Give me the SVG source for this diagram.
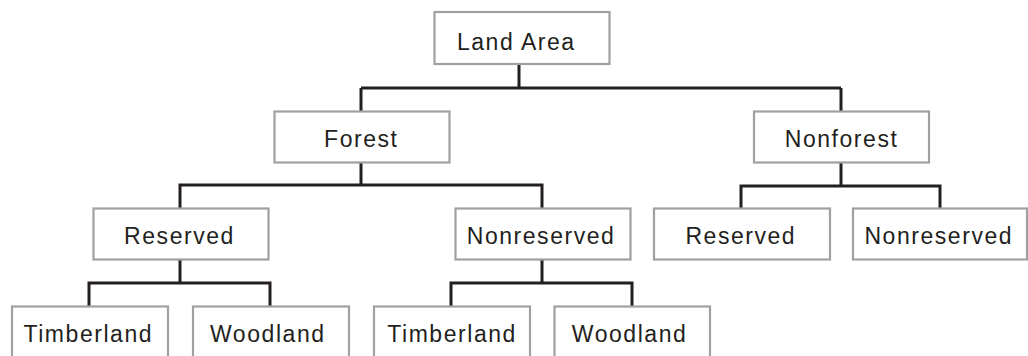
<svg xmlns="http://www.w3.org/2000/svg" width="1028" height="356" viewBox="0 0 1028 356">
<style>
.box{fill:#ffffff;stroke:#a0a0a3;stroke-width:2.2}
.lbl{font-family:"Liberation Sans",Arial,sans-serif;font-size:23px;letter-spacing:1.55px;fill:#231f20;text-anchor:middle}
.conn{fill:none;stroke:#231f20;stroke-width:3;stroke-linejoin:miter;stroke-linecap:butt}
</style>
<rect width="1028" height="356" fill="#ffffff"/>
<g id="connectors" class="conn">
<path d="M519,64 V88 M361,88 H841 M361,88 V111 M841,88 V111"/>
<path d="M361,163 V185 M180,208 V185 H542 V208"/>
<path d="M841,163 V186 M741,208 V186 H940 V208"/>
<path d="M180,260 V283 M89,306 V283 H270 V306"/>
<path d="M542,260 V283 M451,306 V283 H632 V306"/>
</g>
<g id="land-area"><rect class="box" x="434.5" y="12" width="175" height="52"/><text class="lbl" x="516.3" y="50">Land Area</text></g>
<g id="forest"><rect class="box" x="274.5" y="111.5" width="175" height="51"/><text class="lbl" x="361.3" y="147">Forest</text></g>
<g id="nonforest"><rect class="box" x="754" y="111.5" width="175" height="51"/><text class="lbl" x="841.6" y="147">Nonforest</text></g>
<g id="forest-reserved"><rect class="box" x="93.5" y="208.5" width="175" height="51"/><text class="lbl" x="179.5" y="244">Reserved</text></g>
<g id="forest-nonreserved"><rect class="box" x="455.5" y="208.5" width="175" height="51"/><text class="lbl" x="541.1" y="244">Nonreserved</text></g>
<g id="nonforest-reserved"><rect class="box" x="654" y="208.5" width="176" height="51"/><text class="lbl" x="740.8" y="244">Reserved</text></g>
<g id="nonforest-nonreserved"><rect class="box" x="853" y="208.5" width="174" height="51"/><text class="lbl" x="938.8" y="244">Nonreserved</text></g>
<g id="reserved-timberland"><rect class="box" x="12" y="306.5" width="156" height="51"/><text class="lbl" x="88.3" y="342">Timberland</text></g>
<g id="reserved-woodland"><rect class="box" x="193" y="306.5" width="156" height="51"/><text class="lbl" x="267.8" y="342">Woodland</text></g>
<g id="nonreserved-timberland"><rect class="box" x="374" y="306.5" width="156" height="51"/><text class="lbl" x="452.1" y="342">Timberland</text></g>
<g id="nonreserved-woodland"><rect class="box" x="554.5" y="306.5" width="155.5" height="51"/><text class="lbl" x="629.6" y="342">Woodland</text></g>
</svg>
